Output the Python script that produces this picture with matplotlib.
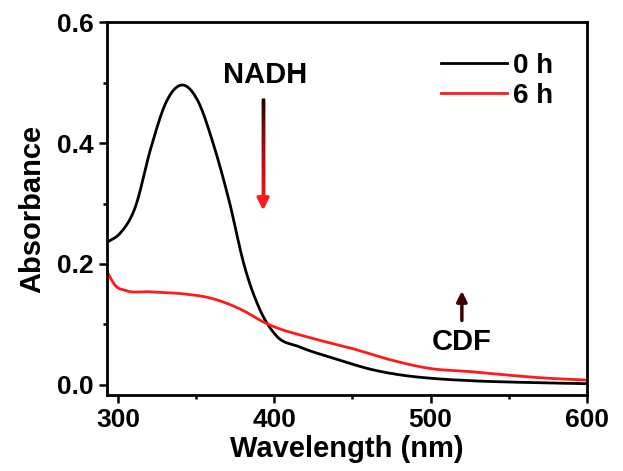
import numpy as np
import matplotlib
matplotlib.use("Agg")
import matplotlib.pyplot as plt
from matplotlib.collections import LineCollection
from matplotlib.ticker import MultipleLocator, FormatStrFormatter

# Spectra
wl_0h = [293, 301, 311, 321, 331, 341, 351, 361, 371, 381, 391, 401, 416, 438, 463, 488, 500, 525, 562, 600]
abs_0h = [0.236, 0.25, 0.294, 0.392, 0.469, 0.496, 0.470, 0.398, 0.305, 0.195, 0.123, 0.082, 0.063, 0.044, 0.025, 0.014, 0.011, 0.007, 0.004, 0.002]

wl_6h = [293, 298, 305, 320, 340, 360, 380, 393, 400, 420, 450, 475, 500, 525, 550, 575, 600]
abs_6h = [0.187, 0.165, 0.156, 0.154, 0.151, 0.143, 0.123, 0.104, 0.096, 0.080, 0.060, 0.041, 0.027, 0.022, 0.016, 0.011, 0.008]

labels = ["0 h", "6 h"]
colors = ["black", "#ff1a1a"]

plt.rcParams["font.family"] = ["Liberation Sans", "DejaVu Sans"]
plt.rcParams["font.weight"] = "bold"

fig = plt.figure(figsize=(6.23, 4.71), dpi=100)
ax = fig.add_axes([0.172, 0.161, 0.770, 0.792])


# cubic Hermite through the read points, so the drawn line is smooth
def smooth(x, y, n=600):
    x = np.asarray(x, float)
    y = np.asarray(y, float)
    m = np.gradient(y, x)
    xs = np.linspace(x[0], x[-1], n)
    i = np.clip(np.searchsorted(x, xs) - 1, 0, len(x) - 2)
    h = x[i + 1] - x[i]
    t = (xs - x[i]) / h
    h00 = 2 * t**3 - 3 * t**2 + 1
    h10 = t**3 - 2 * t**2 + t
    h01 = -2 * t**3 + 3 * t**2
    h11 = t**3 - t**2
    ys = h00 * y[i] + h10 * h * m[i] + h01 * y[i + 1] + h11 * h * m[i + 1]
    return xs, ys


for wl, ab, lab, c in zip([wl_0h, wl_6h], [abs_0h, abs_6h], labels, colors):
    xs, ys = smooth(wl, ab)
    ax.plot(xs, ys, color=c, lw=2, label=lab)

ax.set_xlim(293, 600)
ax.set_ylim(-0.017, 0.6)
ax.xaxis.set_major_locator(MultipleLocator(100))
ax.xaxis.set_minor_locator(MultipleLocator(50))
ax.yaxis.set_major_locator(MultipleLocator(0.2))
ax.yaxis.set_minor_locator(MultipleLocator(0.1))
ax.yaxis.set_major_formatter(FormatStrFormatter("%.1f"))
ax.tick_params(which="both", direction="out", width=1.8, labelsize=19)
ax.tick_params(which="major", length=6)
ax.tick_params(which="minor", length=3)
for s in ax.spines.values():
    s.set_linewidth(2)

ax.set_xlabel("Wavelength (nm)", fontsize=21, fontweight="bold", labelpad=2)
ax.set_ylabel("Absorbance", fontsize=21, fontweight="bold", labelpad=8)

ax.legend(loc="upper right", frameon=False, fontsize=20, handlelength=2.4,
          handletextpad=0.2, labelspacing=0.15, borderaxespad=0.3,
          bbox_to_anchor=(0.97, 0.97))

# NADH annotation with black-to-red arrow
ax.text(394, 0.512, "NADH", ha="center", va="center", fontsize=21, fontweight="bold")
ay = np.linspace(0.474, 0.31, 40)
segs = [[(392.8, ay[i]), (392.8, ay[min(i + 2, len(ay) - 1)])] for i in range(len(ay) - 1)]
grad = [(t, 0.05 * t, 0.05 * t) for t in np.linspace(0, 1, len(segs)) ** 0.6]
ax.add_collection(LineCollection(segs, colors=grad, linewidths=2.5, capstyle="butt"))
ax.annotate("", xy=(392.8, 0.284), xytext=(392.8, 0.315),
            arrowprops=dict(arrowstyle="-|>,head_width=0.35,head_length=0.7",
                            color="#ff1a1a", lw=2.5))

# CDF annotation
ax.text(520, 0.071, "CDF", ha="center", va="center", fontsize=21, fontweight="bold")
ax.annotate("", xy=(520, 0.160), xytext=(520, 0.102),
            arrowprops=dict(arrowstyle="-|>,head_width=0.3,head_length=0.6",
                            color="#3a0000", lw=2.5))

fig.savefig("out.png", dpi=100)
